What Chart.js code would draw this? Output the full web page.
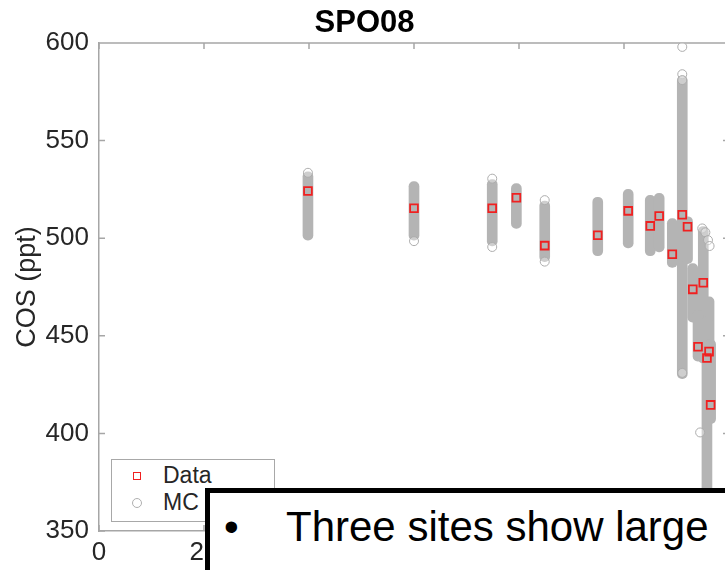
<!DOCTYPE html>
<html>
<head>
<meta charset="utf-8">
<title>SPO08</title>
<script src="https://cdn.jsdelivr.net/npm/chart.js@4"></script>
<style>
  html, body { margin: 0; padding: 0; background: #fff; width: 725px; height: 570px; overflow: hidden; }
  #wrap { position: absolute; left: 0; top: 0; width: 760px; height: 570px; }
  .legend {
    position: absolute; left: 111px; top: 459px; width: 162px; height: 61px;
    border: 1px solid #a8a8a8; background: #fff;
    font: 23px "Liberation Sans", Arial, sans-serif; color: #262626;
  }
  .legend span { position: absolute; }
  .legend .txt { left: 51px; line-height: 23px; }
  .mk-data { left: 21px; top: 12px; width: 8px; height: 8px; box-sizing: border-box; border: 1.5px solid #f02020; }
  .mk-mc { left: 20px; top: 38px; width: 10px; height: 10px; box-sizing: border-box; border: 1px solid #b0b0b0; border-radius: 50%; }
  .note {
    position: absolute; left: 205px; top: 488px; width: 620px; height: 160px;
    border: 5px solid #000; background: #fff; color: #000;
    font: 42px "Liberation Sans", Arial, sans-serif;
  }
  .note span { position: absolute; line-height: 42px; top: 13px; white-space: nowrap; }
</style>
</head>
<body>
<div id="wrap"><canvas id="cosChart" width="760" height="570"></canvas></div>

<div class="legend">
  <span class="mk-data"></span><span class="txt" style="top:4px">Data</span>
  <span class="mk-mc"></span><span class="txt" style="top:31px">MC</span>
</div>

<div class="note">
  <span style="left:14px">•</span>
  <span style="left:76px">Three sites show large</span>
</div>

<script>
/* ---------------------------------------------------------
   Values
--------------------------------------------------------- */
const siteX   = [39.8, 60.0, 74.9, 79.5, 84.9, 95.0, 100.8, 105.0, 106.7, 109.2, 111.1, 112.1, 113.1, 115.1, 114.1, 116.2, 115.8, 116.5];
const dataCOS = [524.2, 515.3, 515.3, 520.7, 496.2, 501.5, 514.0, 506.3, 511.4, 491.8, 512.0, 505.9, 473.8, 477.2, 444.4, 441.9, 438.6, 414.6];

// spread of the Monte Carlo runs at each site (lowest / highest)
const mcLow  = [499, 499, 496, 505, 488, 491, 495, 491, 493, 485, 428, 487, 457, 436, 437, 420, 340, 405];
const mcHigh = [534, 529, 530, 528, 519, 521, 525, 522, 523, 510, 583, 511, 487, 506, 463, 470, 460, 448];

// single MC circles that stand apart from the columns
const mcLooseX = [111.1, 111.1, 111.1, 39.8, 60.0, 74.9, 74.9, 84.9, 84.9, 114.9, 115.5, 116.0, 116.3, 114.5, 111.1];
const mcLooseY = [598, 584, 581, 533.5, 498.5, 495.5, 530.5, 519.5, 488, 505, 503, 499, 496, 400.5, 431];

const yMin = 350, yMax = 600, yStep = 50;
const xMin = 0, xMax = 120, xStep = 20;

const FONT = '"Liberation Sans", Arial, Helvetica, sans-serif';
const AXIS = "#a6a6a6";
const LABEL = "#262626";
const TICK_LEN = 6;

/* ---------------------------------------------------------
   MATLAB-like box: top/right edges and inward tick marks
--------------------------------------------------------- */
const matlabBox = {
  id: "matlabBox",
  beforeDatasetsDraw(chart) {
    const { ctx, chartArea: { left, right, top, bottom }, scales: { x, y } } = chart;
    ctx.save();
    ctx.strokeStyle = AXIS;
    ctx.lineWidth = 1.5;
    ctx.beginPath();
    ctx.moveTo(left, top);
    ctx.lineTo(right, top);
    ctx.lineTo(right, bottom);
    x.ticks.forEach((t) => {
      const px = x.getPixelForValue(t.value);
      ctx.moveTo(px, bottom);
      ctx.lineTo(px, bottom - TICK_LEN);
      ctx.moveTo(px, top);
      ctx.lineTo(px, top + TICK_LEN);
    });
    y.ticks.forEach((t) => {
      const py = y.getPixelForValue(t.value);
      ctx.moveTo(left, py);
      ctx.lineTo(left + TICK_LEN, py);
      ctx.moveTo(right, py);
      ctx.lineTo(right - TICK_LEN, py);
    });
    ctx.stroke();
    ctx.restore();
  },
};

const round = 5;

new Chart(document.getElementById("cosChart").getContext("2d"), {
  type: "scatter",
  data: {
    datasets: [
      {
        label: "Data",
        data: siteX.map((x, i) => ({ x, y: dataCOS[i] })),
        pointStyle: "rect",
        pointRadius: 5.5,
        borderWidth: 1.8,
        borderColor: "#f02020",
        backgroundColor: "rgba(0,0,0,0)",
        order: 0,
      },
      {
        label: "MC",
        data: mcLooseX.map((x, i) => ({ x, y: mcLooseY[i] })),
        pointStyle: "circle",
        pointRadius: 4.5,
        borderWidth: 1,
        borderColor: "#adadad",
        backgroundColor: "rgba(255,255,255,0.35)",
        order: 1,
      },
      {
        label: "MC spread",
        type: "bar",
        data: siteX.map((x, i) => ({ x, y: [mcLow[i], mcHigh[i]] })),
        backgroundColor: "#b4b4b4",
        borderWidth: 0,
        barThickness: 10,
        borderSkipped: false,
        borderRadius: { topLeft: round, topRight: round, bottomLeft: round, bottomRight: round },
        order: 2,
      },
    ],
  },
  options: {
    responsive: false,
    animation: false,
    events: [],
    layout: { padding: { left: 0, right: 31, top: 0, bottom: 0 } },
    plugins: {
      legend: { display: false },
      tooltip: { enabled: false },
      title: {
        display: true,
        text: "SPO08",
        color: "#000",
        font: { family: FONT, size: 31, weight: "bold" },
        padding: { top: 4.4, bottom: 1.4 },
      },
    },
    scales: {
      x: {
        type: "linear",
        min: xMin,
        max: xMax,
        offset: false,
        grid: { display: true, drawOnChartArea: false, drawTicks: false, offset: false },
        border: { color: AXIS, width: 1.5 },
        ticks: { stepSize: xStep, color: LABEL, font: { family: FONT, size: 26 }, padding: 6, maxRotation: 0, autoSkip: false },
        afterFit: (s) => { s.height = 39; },
      },
      y: {
        type: "linear",
        min: yMin,
        max: yMax,
        grid: { display: true, drawOnChartArea: false, drawTicks: false },
        border: { color: AXIS, width: 1.5 },
        ticks: { stepSize: yStep, color: LABEL, font: { family: FONT, size: 26 }, padding: 10 },
        title: {
          display: true,
          text: "COS (ppt)",
          color: LABEL,
          font: { family: FONT, size: 27 },
          padding: { top: 11, bottom: 0 },
        },
        afterFit: (s) => { s.width = 99; },
      },
    },
  },
  plugins: [matlabBox],
});
</script>
</body>
</html>
